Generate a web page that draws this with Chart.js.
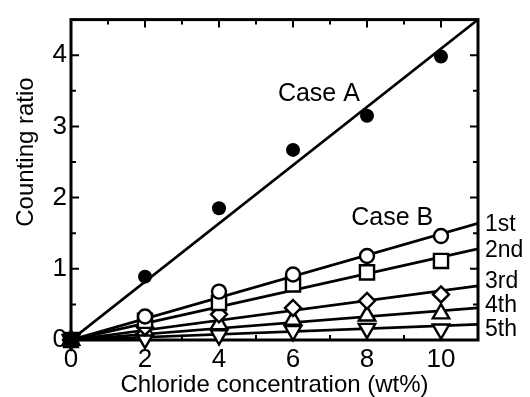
<!DOCTYPE html>
<html>
<head>
<meta charset="utf-8">
<script src="https://cdn.jsdelivr.net/npm/chart.js@4"></script>
<style>
  html, body { margin: 0; padding: 0; background: #fff; }
</style>
</head>
<body>
<canvas id="chart" width="530" height="397"></canvas>
<script>
// Values
const concentrations = [0, 2, 4, 6, 8, 10];
const caseA = [0, 0.89, 1.85, 2.67, 3.15, 3.98];
const caseB1st = [0, 0.33, 0.68, 0.92, 1.18, 1.46];
const caseB2nd = [0, 0.27, 0.52, 0.78, 0.95, 1.11];
const caseB3rd = [0, 0.18, 0.36, 0.45, 0.55, 0.64];
const caseB4th = [0, 0.13, 0.22, 0.28, 0.34, 0.37];
const caseB5th = [0, 0.02, 0.07, 0.13, 0.16, 0.15];

// fitted straight lines from the origin, value at the right edge
const fitX = [0, 11];
const fitA = [0, 4.5];
const fit1st = [0, 1.64];
const fit2nd = [0, 1.28];
const fit3rd = [0, 0.76];
const fit4th = [0, 0.45];
const fit5th = [0, 0.22];

const xTicks = [0, 2, 4, 6, 8, 10];
const xMinorTicks = [1, 3, 5, 7, 9];
const yTicks = [0, 1, 2, 3, 4];
const yMinorTicks = [0.5, 1.5, 2.5, 3.5];

const runLabels = ['1st', '2nd', '3rd', '4th', '5th'];
const runLabelY = [1.62, 1.26, 0.82, 0.48, 0.15];

const FONT = '"Liberation Sans", Arial, sans-serif';

function toPoints(xs, ys) {
    return xs.map((x, i) => ({ x: x, y: ys[i] }));
}

function markerSet(label, ys, style, radius, rotation) {
    return {
        type: 'scatter',
        label: label,
        data: toPoints(concentrations, ys),
        pointStyle: style,
        pointRadius: radius,
        pointRotation: rotation || 0,
        pointBackgroundColor: label === 'Case A' ? '#000' : '#fff',
        pointBorderColor: '#000',
        pointBorderWidth: label === 'Case A' ? 0 : 2.4,
        showLine: false,
        clip: false,
        order: 0
    };
}

function fitSet(label, ys) {
    return {
        type: 'line',
        label: label,
        data: toPoints(fitX, ys),
        borderColor: '#000',
        borderWidth: 2.7,
        pointRadius: 0,
        fill: false,
        order: 1
    };
}

const framePlugin = {
    id: 'frame',
    beforeDatasetsDraw(chart) {
        const { ctx, chartArea: a, scales: { x, y } } = chart;
        ctx.save();
        ctx.strokeStyle = '#000';
        ctx.lineWidth = 2;
        ctx.beginPath();
        xTicks.concat(xMinorTicks).forEach(v => {
            const px = x.getPixelForValue(v);
            const len = xTicks.includes(v) ? 8 : 5;
            ctx.moveTo(px, a.bottom);
            ctx.lineTo(px, a.bottom - len);
            ctx.moveTo(px, a.top);
            ctx.lineTo(px, a.top + len);
        });
        yTicks.concat(yMinorTicks).forEach(v => {
            const py = y.getPixelForValue(v);
            const len = yTicks.includes(v) ? 8 : 5;
            ctx.moveTo(a.left, py);
            ctx.lineTo(a.left + len, py);
            ctx.moveTo(a.right, py);
            ctx.lineTo(a.right - len, py);
        });
        ctx.stroke();
        ctx.lineWidth = 3;
        ctx.strokeRect(a.left, a.top, a.right - a.left, a.bottom - a.top);
        ctx.restore();
    },
    afterDraw(chart) {
        const { ctx, chartArea: a, scales: { x, y } } = chart;
        ctx.save();
        ctx.fillStyle = '#000';
        ctx.font = '25px ' + FONT;
        ctx.textAlign = 'center';
        ctx.textBaseline = 'middle';
        ctx.fillText('Case A', x.getPixelForValue(6.7), y.getPixelForValue(3.45));
        ctx.fillText('Case B', x.getPixelForValue(8.68), y.getPixelForValue(1.71));

        // axis titles
        ctx.font = '24px ' + FONT;
        ctx.textBaseline = 'alphabetic';
        ctx.fillText('Chloride concentration (wt%)', (a.left + a.right) / 2, 392);
        ctx.save();
        ctx.translate(33, 152);
        ctx.rotate(-Math.PI / 2);
        ctx.fillText('Counting ratio', 0, 0);
        ctx.restore();

        // run labels at the right
        ctx.font = '23px ' + FONT;
        ctx.textAlign = 'left';
        ctx.textBaseline = 'middle';
        runLabels.forEach((t, i) => {
            ctx.fillText(t, a.right + 7, y.getPixelForValue(runLabelY[i]));
        });
        ctx.restore();
    }
};

new Chart(document.getElementById('chart').getContext('2d'), {
    type: 'scatter',
    data: {
        datasets: [
            markerSet('Case A', caseA, 'circle', 7),
            markerSet('1st', caseB1st, 'circle', 7),
            markerSet('2nd', caseB2nd, 'rect', 10),
            markerSet('3rd', caseB3rd, 'rectRot', 8),
            markerSet('4th', caseB4th, 'triangle', 9.5),
            markerSet('5th', caseB5th, 'triangle', 9.5, 180),
            fitSet('Case A fit', fitA),
            fitSet('1st fit', fit1st),
            fitSet('2nd fit', fit2nd),
            fitSet('3rd fit', fit3rd),
            fitSet('4th fit', fit4th),
            fitSet('5th fit', fit5th)
        ]
    },
    options: {
        responsive: false,
        animation: false,
        layout: { padding: { top: 11, right: 52, left: 0, bottom: 0 } },
        plugins: {
            legend: { display: false },
            tooltip: { enabled: false }
        },
        scales: {
            x: {
                type: 'linear',
                min: 0,
                max: 11,
                grid: { display: false, drawTicks: false },
                border: { display: false },
                afterBuildTicks: scale => { scale.ticks = xTicks.map(v => ({ value: v })); },
                afterFit: scale => { scale.height = 57; },
                ticks: {
                    padding: 4,
                    color: '#000',
                    maxRotation: 0,
                    font: { family: FONT, size: 26 }
                }
            },
            y: {
                type: 'linear',
                min: 0,
                max: 4.5,
                grid: { display: false, drawTicks: false },
                border: { display: false },
                afterBuildTicks: scale => { scale.ticks = yTicks.map(v => ({ value: v })); },
                afterFit: scale => { scale.width = 71; },
                ticks: {
                    padding: 4,
                    color: '#000',
                    font: { family: FONT, size: 26 }
                }
            }
        }
    },
    plugins: [framePlugin]
});
</script>
</body>
</html>
